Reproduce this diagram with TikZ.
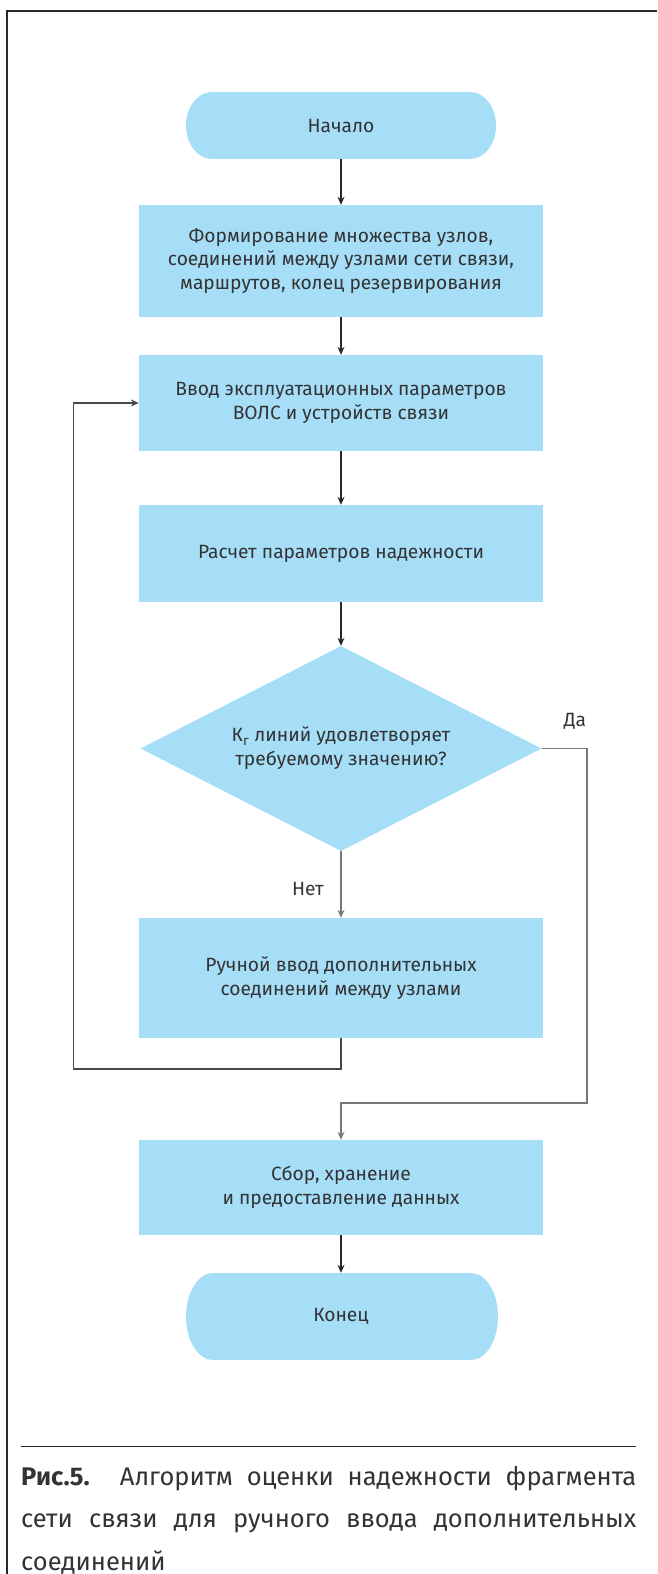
\documentclass[tikz,border=0pt]{standalone}
\usepackage{fontspec}
\setmainfont{Fira Sans}
\usetikzlibrary{shapes.geometric,arrows.meta}
\definecolor{boxblue}{RGB}{166,222,248}
\definecolor{txt}{RGB}{51,51,51}
\definecolor{darkln}{RGB}{40,40,40}
\definecolor{grayln}{RGB}{120,120,120}
\begin{document}
\begin{tikzpicture}[x=1pt,y=-1pt,
  every node/.style={text=txt, font=\fontsize{19.2}{23.8}\selectfont},
  procbox/.style={rectangle, fill=boxblue, minimum width=404pt, inner sep=0pt, align=center},
  termbox/.style={rectangle, minimum width=310pt, inner sep=0pt},
  decbox/.style={diamond, fill=boxblue, minimum width=401pt, minimum height=205pt, aspect=1.956, inner sep=0pt, align=center},
  flow/.style={draw=darkln, line width=1.2pt, -{Stealth[length=8pt,width=7pt]}},
  flowgray/.style={draw=grayln, line width=1.2pt, -{Stealth[length=8pt,width=7pt]}},
  loopln/.style={draw=darkln!85, line width=1.2pt, -{Stealth[length=8pt,width=7pt]}},
  lbl/.style={inner sep=0pt}
]
\useasboundingbox (0,0) rectangle (657,1574);
\draw[darkln, line width=1.5pt] (7,1574) -- (7,11) -- (657,11);

% terminal shapes
\fill[boxblue] (212,92) rectangle (470,159);
\fill[boxblue] (212,125.5) ellipse [x radius=26, y radius=33.5];
\fill[boxblue] (470,125.5) ellipse [x radius=26, y radius=33.5];
\node[termbox, minimum height=67pt] (start) at (341,125.5) {Начало};

\fill[boxblue] (213,1273) rectangle (471,1360);
\fill[boxblue] (213,1316.5) ellipse [x radius=27, y radius=43.5];
\fill[boxblue] (471,1316.5) ellipse [x radius=27, y radius=43.5];
\node[termbox, minimum height=87pt] (end) at (341,1316.5) {Конец};

\node[procbox, minimum height=112pt] (b1) at (341,261) {Формирование множества узлов,\\соединений между узлами сети связи,\\маршрутов, колец резервирования};
\node[procbox, minimum height=96pt] (b2) at (341,403) {Ввод эксплуатационных параметров\\ВОЛС и устройств связи};
\node[procbox, minimum height=97pt] (b3) at (341,553.5) {Расчет параметров надежности};
\node[decbox] (dia) at (341,748.5) {К\textsubscript{г} линий удовлетворяет\\требуемому значению?};
\node[procbox, minimum height=120pt] (b4) at (341,978) {Ручной ввод дополнительных\\соединений между узлами};
\node[procbox, minimum height=95pt] (b5) at (341,1187.5) {Сбор, хранение\\и предоставление данных};

\draw[flow] (start.south) -- (b1.north);
\draw[flow] (b1.south) -- (b2.north);
\draw[flow] (b2.south) -- (b3.north);
\draw[flow] (b3.south) -- (dia.north);
\draw[flowgray] (dia.south) -- (b4.north);
\draw[flow] (b5.south) -- (end.north);

\coordinate (yr) at (587,748.5);
\coordinate (yb) at (587,1103);
\draw[flowgray] (dia.east) -- (yr) -- (yb) -| (b5.north);
\node[lbl] (da) at (575,721) {Да};
\node[lbl, anchor=east] (net) at (324,889) {Нет};

\coordinate (lb) at (73.5,1069);
\draw[loopln] (b4.south) |- (lb) |- (b2.west);

\draw[darkln, line width=1pt] (21,1446) -- (636,1446);
\node[anchor=north west, inner sep=0pt, text width=615pt, align=justify,
      font=\fontsize{25.5}{42.5}\selectfont] (cap) at (21,1466)
  {\textbf{Рис.5.} Алгоритм оценки надежности фрагмента сети связи для ручного ввода дополнительных соединений};
\end{tikzpicture}
\end{document}
